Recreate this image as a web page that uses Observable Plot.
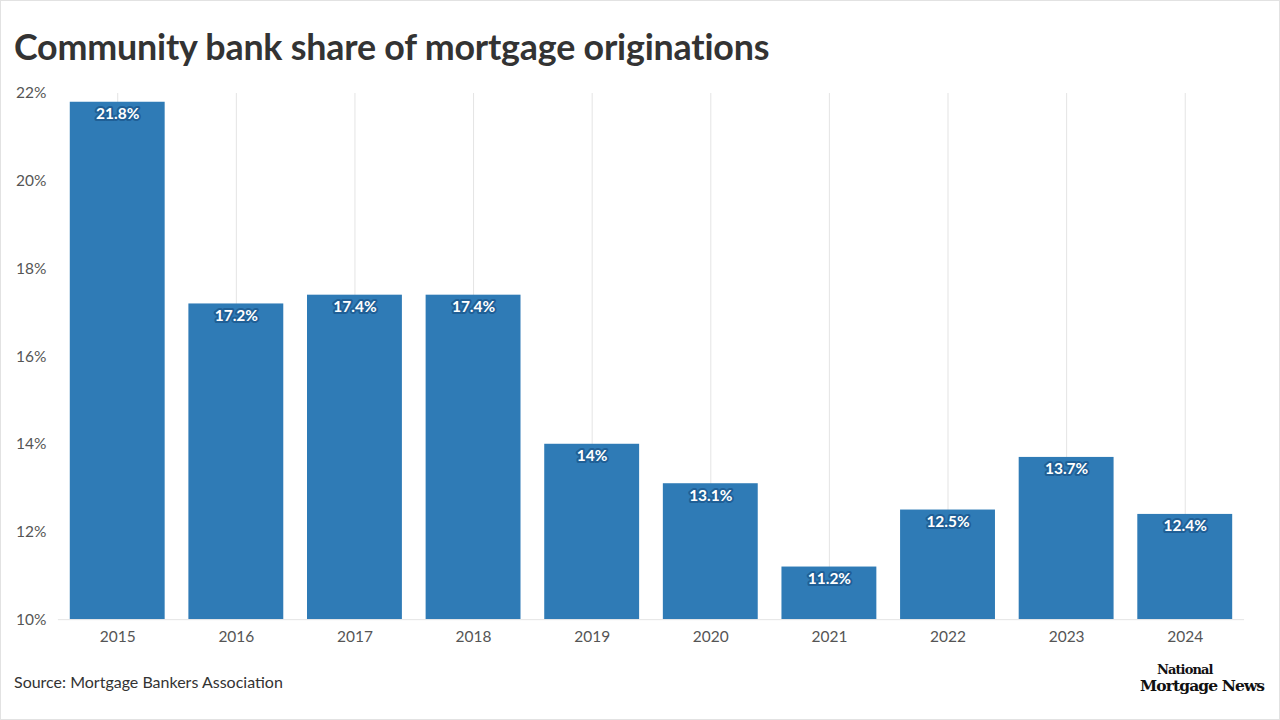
<!DOCTYPE html>
<html>
<head>
<meta charset="utf-8">
<script src="https://cdn.jsdelivr.net/npm/d3@7"></script>
<script src="https://cdn.jsdelivr.net/npm/@observablehq/plot@0.6"></script>
<style>
  html, body { margin: 0; padding: 0; background: #fff; }
  body { width: 1280px; height: 720px; position: relative; overflow: hidden; font-family: Lato, sans-serif; box-sizing: border-box; border: 1px solid #e2e2e2; }
  #title { position: absolute; left: 13px; top: 24px; font-size: 35.8px; font-weight: 700; color: #333; letter-spacing: -0.2px; }
  #chart { position: absolute; left: 0; top: 80px; }
  #source { position: absolute; left: 13px; top: 671px; font-size: 16px; color: #333; }
  #logo { position: absolute; left: 1139px; top: 662px; width: 130px; font-family: "DejaVu Serif", "Liberation Serif", serif; font-weight: 700; color: #111; letter-spacing: -0.9px; }
  #logo .a { position: absolute; left: 17px; top: 0; font-size: 13px; line-height: 13px; }
  #logo .b { position: absolute; left: 0; top: 15px; font-size: 15.5px; line-height: 15px; white-space: nowrap; }
</style>
</head>
<body>
<div id="title">Community bank share of mortgage originations</div>
<div id="chart"></div>
<div id="source">Source: Mortgage Bankers Association</div>
<div id="logo"><div class="a">National</div><div class="b">Mortgage News</div></div>
<script>
const years = ["2015","2016","2017","2018","2019","2020","2021","2022","2023","2024"];
const shares = [21.8, 17.2, 17.4, 17.4, 14, 13.1, 11.2, 12.5, 13.7, 12.4];
const labels = ["21.8%","17.2%","17.4%","17.4%","14%","13.1%","11.2%","12.5%","13.7%","12.4%"];
const yTicks = [10, 12, 14, 16, 18, 20, 22];

const data = years.map((y, i) => ({year: y, value: shares[i], label: labels[i]}));

const chart = Plot.plot({
  width: 1280,
  height: 580,
  marginTop: 12,
  marginBottom: 41,
  marginLeft: 57,
  marginRight: 35,
  style: {fontFamily: "Lato, sans-serif", fontSize: "15.5px", color: "#555", background: "transparent"},
  x: {domain: years, paddingInner: 0.2, paddingOuter: 0.1, round: false, label: null, tickSize: 0, tickPadding: 11},
  y: {domain: [10, 22], ticks: yTicks, tickFormat: d => d + "%", label: null, tickSize: 0, tickPadding: 12},
  marks: [
    Plot.gridX(years, {x: d => d, stroke: "#e4e4e4", strokeOpacity: 1}),
    Plot.barY(data, {x: "year", y1: 10, y2: "value", fill: "#2f7bb6"}),
    Plot.ruleY([10], {stroke: "#e4e4e4"}),
    Plot.text(data, {x: "year", y: "value", text: "label", dy: 12, fill: "#fff", stroke: "#1f5f96", strokeWidth: 4, fontWeight: 700, fontSize: 15.5})
  ]
});
document.getElementById("chart").appendChild(chart);
</script>
</body>
</html>
